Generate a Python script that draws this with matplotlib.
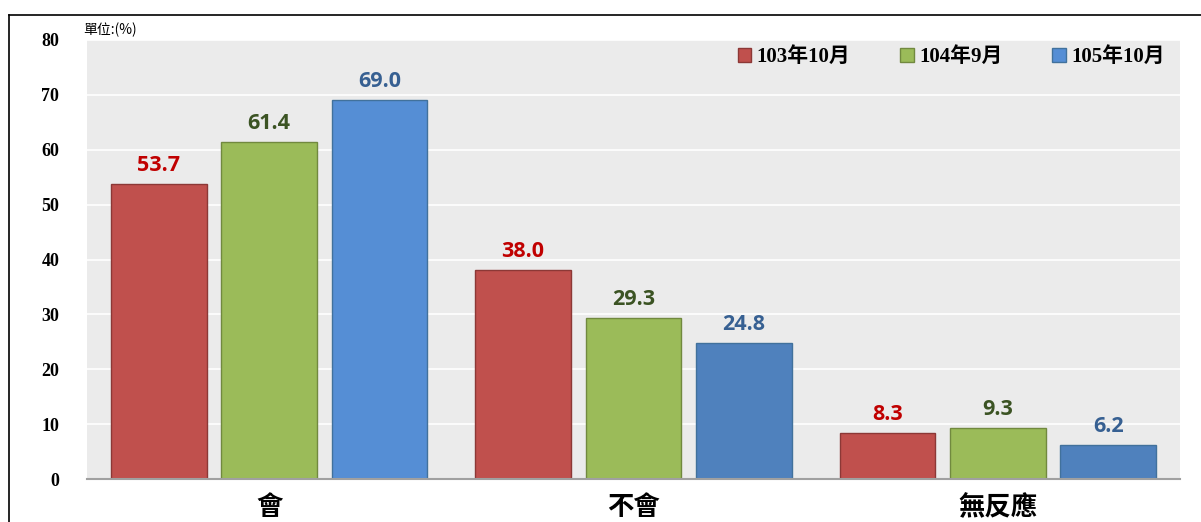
import matplotlib
matplotlib.use("Agg")
import matplotlib.pyplot as plt
import numpy as np
from matplotlib.lines import Line2D

categories = ["會", "不會", "無反應"]
series_names = ["103年10月", "104年9月", "105年10月"]
v103 = [53.7, 38.0, 8.3]
v104 = [61.4, 29.3, 9.3]
v105 = [69.0, 24.8, 6.2]
yticks = [0, 10, 20, 30, 40, 50, 60, 70, 80]

values = [v103, v104, v105]
face = [["#C0504D"] * 3, ["#9BBB59"] * 3, ["#558ED5", "#4F81BD", "#4F81BD"]]
edge = ["#8C3836", "#71893F", "#41719C"]
label_col = ["#C00000", "#3B5323", "#376092"]

fig = plt.figure(figsize=(12.01, 5.22), dpi=100)
ax = fig.add_axes([87 / 1201, 1 - 479 / 522, (1180 - 87) / 1201, (479 - 40) / 522])
ax.set_facecolor("#EBEBEB")

x = np.arange(len(categories))
step = 0.303
width = 0.263
for i, vals in enumerate(values):
    xs = x + (i - 1) * step
    bars = ax.bar(xs, vals, width, color=face[i], edgecolor=edge[i], linewidth=1.0,
                  label=series_names[i], zorder=3)
    for xx, v in zip(xs, vals):
        ax.annotate(f"{v:.1f}", (xx, v), xytext=(0, 6), textcoords="offset points",
                    ha="center", va="bottom", fontsize=15.5, fontweight="bold",
                    family=["Open Sans", "DejaVu Sans"], color=label_col[i], zorder=4)

ax.set_xlim(-0.5, 2.5)
ax.set_ylim(0, 80)
ax.set_yticks(yticks)
ax.set_yticklabels([str(t) for t in yticks], family=["Liberation Serif"], fontweight="bold", fontsize=13)
ax.set_xticks(x)
ax.set_xticklabels(categories, family=["Noto Sans CJK TC"], fontweight="bold", fontsize=19)
ax.tick_params(axis="both", length=0)
ax.tick_params(axis="y", pad=20)
ax.tick_params(axis="x", pad=11)
ax.grid(axis="y", color="white", linewidth=1.2, zorder=0)
for s in ["top", "right", "left"]:
    ax.spines[s].set_visible(False)
ax.spines["bottom"].set_color("#A0A0A0")
ax.spines["bottom"].set_linewidth(1.5)
ax.spines["bottom"].set_zorder(5)

leg = ax.legend(loc="center right", bbox_to_anchor=(0.986, 0.961), ncol=3, frameon=False,
                borderpad=0, borderaxespad=0,
                handlelength=0.65, handleheight=0.65, handletextpad=0.25, columnspacing=2.4,
                prop={"family": ["Liberation Serif", "Noto Sans CJK TC"], "weight": "bold", "size": 15})

fig.text(83 / 1201, 1 - 30 / 522, "單位:(%)", family=["Noto Sans CJK TC"], fontsize=10,
         ha="left", va="center")

# outer frame
fig.add_artist(Line2D([9 / 1201, 1.0], [1 - 15 / 522] * 2, color="black", linewidth=1.2,
                      transform=fig.transFigure))
fig.add_artist(Line2D([9 / 1201] * 2, [0, 1 - 15 / 522], color="black", linewidth=1.2,
                      transform=fig.transFigure))

fig.savefig("out.png", dpi=100, facecolor="white")
